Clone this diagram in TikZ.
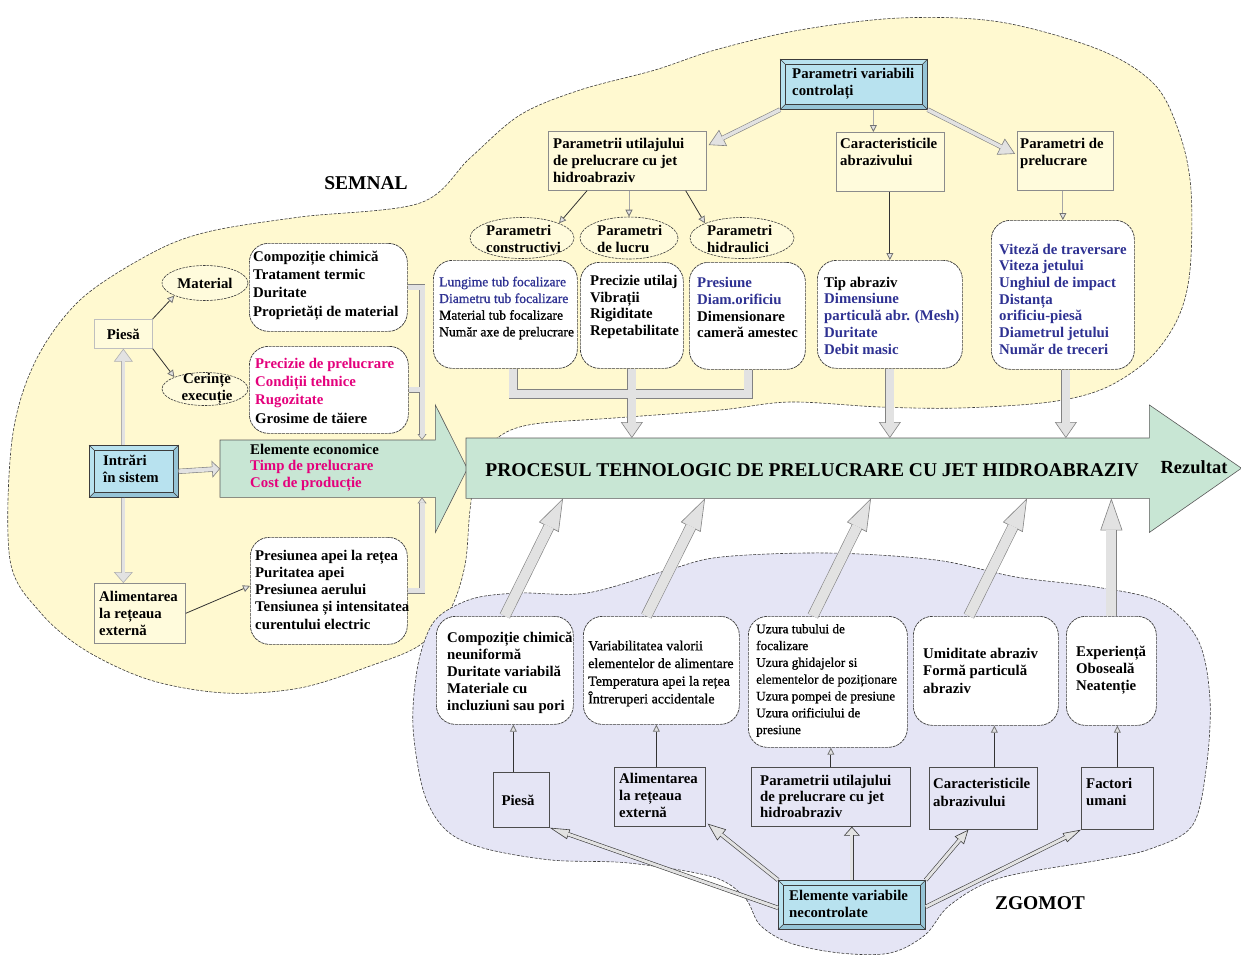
\documentclass[tikz,border=0pt]{standalone}
\usepackage{fontspec}
\setmainfont{Liberation Serif}
\newfontfamily\medserif{Liberation Serif}[FakeBold=0.9]
\usetikzlibrary{arrows.meta,calc,shapes.geometric}

\definecolor{semnalbg}{RGB}{255,249,208}
\definecolor{zgomotbg}{RGB}{229,229,245}
\definecolor{procgreen}{RGB}{200,230,212}
\definecolor{bevelblue}{RGB}{184,226,239}
\definecolor{bevelshade}{RGB}{150,196,214}
\definecolor{boxyellow}{RGB}{255,251,220}
\definecolor{navy}{RGB}{46,49,146}
\definecolor{pinktext}{RGB}{228,0,124}
\definecolor{arrowfill}{RGB}{226,226,226}
\definecolor{arrowline}{RGB}{130,130,130}
\definecolor{lightline}{RGB}{175,175,175}
\definecolor{outline}{RGB}{60,60,60}

\tikzset{
  txt/.style={inner sep=0pt, anchor=west, align=left, font=\fontsize{14.8}{17}\selectfont\bfseries},
  txtc/.style={txt, anchor=center, align=center},
  rbox/.style={draw=outline, line width=0.7pt, dash pattern=on 3pt off 0.8pt, fill=white, rounded corners=19pt, inner sep=0pt, anchor=north west},
  ybox/.style={draw=black!45, line width=0.7pt, fill=boxyellow, inner sep=0pt, anchor=north west},
  lbox/.style={draw=black!70, line width=0.7pt, fill=zgomotbg, inner sep=0pt, anchor=north west},
  bevel/.style={draw=outline, line width=0.7pt, fill=bevelblue, inner sep=0pt, anchor=north west},
  oval/.style={ellipse, draw=outline, line width=0.6pt, dash pattern=on 2.5pt off 1pt, fill=boxyellow, inner sep=0pt},
  blob/.style={draw=outline, line width=0.6pt, dash pattern=on 3pt off 1.5pt},
  thinarr/.style={draw=black!80, line width=0.8pt, -{Triangle[length=7pt,width=7pt,color=black!55,fill=arrowfill]}},
  lightarr/.style={thinarr, draw=black!35},
  shaftout/.style={draw=arrowline, line join=miter},
  shaftin/.style={draw=arrowfill, line join=miter},
  bigtxt/.style={inner sep=0pt, font=\fontsize{19.5}{20}\selectfont\bfseries},
}

% hollow arrow: [outline colour]{shaft width}{head length}{head width}{from}{to}
\newcommand\harrow[6][arrowline]{%
  \draw[draw=#1, line width=0.6pt, -{Triangle[length=#3pt,width=#4pt,fill=arrowfill]}] #5 -- #6;
  \draw[draw=#1, line width=#2pt+1.2pt, shorten >=#3pt-0.6pt] #5 -- #6;
  \draw[draw=arrowfill, line width=#2pt, shorten >=#3pt-0.9pt] #5 -- #6;}

% bevelled frame drawn over a node of style bevel
\newcommand\bevelize[1]{%
  \fill[bevelshade] (#1.south west) -- ($(#1.south west)+(5,-5)$) -- ($(#1.south east)+(-5,-5)$)
     -- ($(#1.north east)+(-5,5)$) -- (#1.north east) -- (#1.south east) -- cycle;
  \draw[outline, line width=0.5pt] ($(#1.north west)+(5,5)$) rectangle ($(#1.south east)+(-5,-5)$);
  \draw[outline, line width=0.5pt] (#1.north west) -- ++(5,5) (#1.north east) -- ++(-5,5)
     (#1.south west) -- ++(5,-5) (#1.south east) -- ++(-5,-5);
  \draw[outline, line width=0.7pt] (#1.north west) rectangle (#1.south east);}

\begin{document}
\begin{tikzpicture}[x=1pt,y=-1pt]
\useasboundingbox (0,0) rectangle (1241,959);
\fill[white] (0,0) rectangle (1241,959);

% ---------- signal and noise regions ----------
\draw[blob, fill=semnalbg] plot[smooth cycle, tension=0.55] coordinates {
 (10,560) (12,440) (35,362) (80,300) (150,254) (207,232) (300,217) (420,203) (470,158)
 (520,115) (580,90) (655,70) (715,50) (800,30) (900,18) (1000,22) (1100,50) (1155,85)
 (1180,135) (1191,190) (1190,270) (1178,318) (1150,358) (1105,388) (1050,402) (960,408)
 (880,407) (790,402) (720,410) (614,418) (534,424) (500,436) (478,462) (470,510) (465,565)
 (450,610) (420,645) (370,666) (300,688) (225,693) (150,680) (85,650) (40,612)};
\draw[blob, fill=zgomotbg] plot[smooth cycle, tension=0.55] coordinates {
 (443,613) (475,598) (520,593) (587,593) (668,570) (721,557) (828,553) (936,560) (1016,577)
 (1096,587) (1160,602) (1198,640) (1210,700) (1206,770) (1192,826) (1150,849) (1100,860)
 (1000,878) (950,905) (925,935) (890,953) (840,953) (790,943) (760,925) (745,898) (713,877)
 (629,863) (551,860) (483,848) (446,830) (424,793) (413,727) (417,670) (428,632)};

\node[bigtxt] (semnal) at (366,183) {SEMNAL};
\node[bigtxt] (zgomot) at (1040,903) {ZGOMOT};

% ---------- process arrows ----------
\node[inner sep=0pt, minimum width=215pt, minimum height=57pt, anchor=north west] (econ) at (220,440) {};
\draw[draw=black!65, line width=0.6pt, fill=procgreen] (econ.north west) -- (econ.north east)
  -- ($(econ.north east)+(0,-35)$) -- ($(econ.east)+(32,0)$) -- ($(econ.south east)+(0,35)$)
  -- (econ.south east) -- (econ.south west) -- cycle;
\node[inner sep=0pt, minimum width=683pt, minimum height=60pt, anchor=north west] (proc) at (466,438) {};
\draw[draw=black!65, line width=0.6pt, fill=procgreen] (proc.north west) -- (proc.north east)
  -- ($(proc.north east)+(0,-33)$) -- ($(proc.east)+(92,0)$) -- ($(proc.south east)+(0,34)$)
  -- (proc.south east) -- (proc.south west) -- cycle;
\node[bigtxt] (procT) at (812,470) {PROCESUL TEHNOLOGIC DE PRELUCRARE CU JET HIDROABRAZIV};
\node[bigtxt, font=\fontsize{18.5}{20}\selectfont\bfseries] (rezT) at (1194,467) {Rezultat};
\node[txt, font=\fontsize{14.8}{16.5}\selectfont\bfseries] (econT) at (250,467.5)
  {Elemente economice\\{\color{pinktext}Timp de prelucrare}\\{\color{pinktext}Cost de producție}};

% ---------- inputs (left) ----------
\node[ybox, draw=black!25, minimum width=58pt, minimum height=29pt] (piesa) at (94,319) {};
\node[txtc] (piesaT) at (piesa) {Piesă};
\node[oval, minimum width=86pt, minimum height=35pt] (material) at (205,283) {};
\node[txtc] (materialT) at (material) {Material};
\node[oval, minimum width=86pt, minimum height=33pt] (cerinte) at (205,389) {};
\node[txtc] (cerinteT) at ($(cerinte)+(2,0)$) {Cerințe\\execuție};
\node[rbox, minimum width=158pt, minimum height=88pt] (compozitie) at (249,243) {};
\node[txt, font=\fontsize{14.8}{18.3}\selectfont\bfseries] (compT) at (253,285.5)
  {Compoziție chimică\\Tratament termic\\Duritate\\Proprietăți de material};
\node[rbox, minimum width=159pt, minimum height=87pt] (precizie) at (249,346) {};
\node[txt, font=\fontsize{14.8}{18.3}\selectfont\bfseries] (precT) at (255,390.5)
  {{\color{pinktext}Precizie de prelucrare}\\{\color{pinktext}Condiții tehnice}\\{\color{pinktext}Rugozitate}\\Grosime de tăiere};
\node[bevel, minimum width=89pt, minimum height=52pt] (intrari) at (89,445) {};
\bevelize{intrari}
\node[txt] (intrT) at (103,468.5) {Intrări\\în sistem};
\node[ybox, minimum width=91pt, minimum height=60pt] (alim) at (94,583) {};
\node[txt] (alimT) at (99,613) {Alimentarea\\la rețeaua\\externă};
\node[rbox, minimum width=157pt, minimum height=107pt] (presiunea) at (250,537) {};
\node[txt, font=\fontsize{14.8}{17.25}\selectfont\bfseries] (presT) at (255,589.5)
  {Presiunea apei la rețea\\Puritatea apei\\Presiunea aerului\\Tensiunea și intensitatea\\curentului electric};

% ---------- controlled parameters (top) ----------
\node[bevel, minimum width=147pt, minimum height=50pt] (variabili) at (780,59) {};
\bevelize{variabili}
\node[txt] (varT) at (792,83.5) {Parametri variabili\\controlați};
\node[ybox, minimum width=158pt, minimum height=59pt] (utilajului) at (548,131) {};
\node[txt] (utilT) at (553,160) {Parametrii utilajului\\de prelucrare cu jet\\hidroabraziv};
\node[ybox, minimum width=108pt, minimum height=59pt] (caract) at (836,132) {};
\node[txt] (caractT) at (840,152) {Caracteristicile\\abrazivului};
\node[ybox, minimum width=96pt, minimum height=59pt] (prelucrare) at (1017,131) {};
\node[txt] (prelT) at (1020,153.5) {Parametri de\\prelucrare};
\node[oval, minimum width=104pt, minimum height=41pt] (constr) at (522,238) {};
\node[txt] (constrT) at (486,238.5) {Parametri\\constructivi};
\node[oval, minimum width=98pt, minimum height=42pt] (lucru) at (629,238) {};
\node[txt] (lucruT) at (597,238.5) {Parametri\\de lucru};
\node[oval, minimum width=104pt, minimum height=41pt] (hidr) at (742,238) {};
\node[txt] (hidrT) at (707,238.5) {Parametri\\hidraulici};
\node[rbox, minimum width=144pt, minimum height=108pt] (lungime) at (433,260) {};
\node[txt, font=\fontsize{13.6}{16.7}\medserif] (lungT) at (439,308)
  {{\color{navy}Lungime tub focalizare}\\{\color{navy}Diametru tub focalizare}\\Material tub focalizare\\Număr axe de prelucrare};
\node[rbox, minimum width=103pt, minimum height=106pt] (precutil) at (580,262) {};
\node[txt, font=\fontsize{14.8}{16.7}\selectfont\bfseries] (precuT) at (590,307)
  {Precizie utilaj\\Vibrații\\Rigiditate\\Repetabilitate};
\node[rbox, minimum width=116pt, minimum height=107pt] (presiune) at (689,262) {};
\node[txt, font=\fontsize{14.8}{16.9}\selectfont\bfseries] (presiuneT) at (697,307.5)
  {{\color{navy}Presiune}\\{\color{navy}Diam.orificiu}\\Dimensionare\\cameră amestec};
\node[rbox, minimum width=145pt, minimum height=108pt] (tip) at (817,260) {};
\node[txt, font=\fontsize{14.8}{16.75}\selectfont\bfseries] (tipT) at (824,315.5)
  {Tip abraziv\\{\color{navy}Dimensiune}\\{\color{navy}particulă abr. (Mesh)}\\{\color{navy}Duritate}\\{\color{navy}Debit masic}};
\node[rbox, minimum width=143pt, minimum height=149pt] (viteza) at (991,220) {};
\node[txt, font=\fontsize{14.8}{16.7}\selectfont\bfseries, text=navy] (vitT) at (999,299)
  {Viteză de traversare\\Viteza jetului\\Unghiul de impact\\Distanța\\orificiu-piesă\\Diametrul jetului\\Număr de treceri};

% ---------- uncontrolled elements (bottom) ----------
\node[rbox, minimum width=137pt, minimum height=108pt] (box1) at (436,616) {};
\node[txt] (box1T) at (447,673)
  {Compoziție chimică\\neuniformă\\Duritate variabilă\\Materiale cu\\incluziuni sau pori};
\node[rbox, minimum width=156pt, minimum height=108pt] (box2) at (583,616) {};
\node[txt, font=\fontsize{14}{17.7}\medserif] (box2T) at (588,673.5)
  {Variabilitatea valorii\\elementelor de alimentare\\Temperatura apei la rețea\\Întreruperi accidentale};
\node[rbox, minimum width=159pt, minimum height=131pt] (box3) at (748,616) {};
\node[txt, font=\fontsize{13.2}{16.8}\medserif] (box3T) at (756,680.5)
  {Uzura tubului de\\focalizare\\Uzura ghidajelor si\\elementelor de poziționare\\Uzura pompei de presiune\\Uzura orificiului de\\presiune};
\node[rbox, minimum width=145pt, minimum height=109pt] (box4) at (913,616) {};
\node[txt, font=\fontsize{14.8}{17.5}\selectfont\bfseries] (box4T) at (923,670.5)
  {Umiditate abraziv\\Formă particulă\\abraziv};
\node[rbox, minimum width=90pt, minimum height=109pt] (box5) at (1066,616) {};
\node[txt] (box5T) at (1076,670) {Experiență\\Oboseală\\Neatenție};

\node[lbox, minimum width=56pt, minimum height=55pt] (piesaB) at (493,772) {};
\node[txtc] (piesaBT) at (518,800) {Piesă};
\node[lbox, minimum width=91pt, minimum height=59pt] (alimB) at (614,767) {};
\node[txt] (alimBT) at (619,795) {Alimentarea\\la rețeaua\\externă};
\node[lbox, minimum width=159pt, minimum height=59pt] (paramB) at (751,767) {};
\node[txt, font=\fontsize{14.8}{16}\selectfont\bfseries] (paramBT) at (760,796)
  {Parametrii utilajului\\de prelucrare cu jet\\hidroabraziv};
\node[lbox, minimum width=108pt, minimum height=62pt] (caractB) at (929,767) {};
\node[txt, font=\fontsize{14.8}{18}\selectfont\bfseries] (caractBT) at (933,792) {Caracteristicile\\abrazivului};
\node[lbox, minimum width=72pt, minimum height=62pt] (factoriB) at (1081,767) {};
\node[txt] (factoriBT) at (1086,791.5) {Factori\\umani};
\node[bevel, minimum width=147pt, minimum height=49pt] (elemente) at (778,880) {};
\bevelize{elemente}
\node[txt] (elemT) at (789,903.5) {Elemente variabile\\necontrolate};

% ---------- connectors: inputs ----------
\draw[thinarr] (piesa.north east) -- (material.south west);
\draw[thinarr] (piesa.south east) -- (cerinte.north west);
\draw[thinarr] (alim.east) -- ($(presiunea.west)+(0,-5)$);
\harrow[lightline]{3}{13}{19}{(piesa.south |- intrari.north)}{(piesa.south)}
\harrow[lightline]{3}{11}{19}{(piesa.south |- intrari.south)}{(piesa.south |- alim.north)}
\harrow{4}{8}{17}{(intrari.east)}{(econ.west)}

\coordinate (brkA) at (422,0);
\draw[draw=arrowline, line width=0.6pt, -{Triangle[length=6pt,width=9pt,fill=arrowfill]}]
  (brkA |- compozitie.east) -- (brkA |- econ.north);
\draw[draw=arrowline, line width=0.6pt, -{Triangle[length=6pt,width=9pt,fill=arrowfill]}]
  (brkA |- presiunea.east) -- (brkA |- econ.south);
\foreach \w/\s in {6.2/shaftout, 5/shaftin} {
  \draw[\s, line width=\w pt] (compozitie.east) -- (brkA |- compozitie.east) -- ($(brkA |- econ.north)+(0,-5.5)$);
  \draw[\s, line width=\w pt] (precizie.east) -- (brkA |- precizie.east);
  \draw[\s, line width=\w pt] (presiunea.east) -- (brkA |- presiunea.east) -- ($(brkA |- econ.south)+(0,5.5)$);
}

% ---------- connectors: controlled parameters ----------
\harrow{3.5}{16}{18}{(variabili.south west)}{($(utilajului.north east)+(2,14)$)}
\harrow{3.5}{16}{18}{(variabili.south east)}{($(prelucrare.west)+(-2,-7)$)}
\draw[lightarr] ($(variabili.south)+(19.5,0)$) -- ($(caract.north)+(-17,0)$);
\draw[thinarr] ($(utilajului.south west)+(39,0)$) -- (constr.north east);
\draw[lightarr] (lucru.north |- utilajului.south) -- (lucru.north);
\draw[thinarr] ($(utilajului.south east)+(-21,0)$) -- (hidr.north west);
\draw[thinarr] (tip.north |- caract.south) -- (tip.north);
\draw[lightarr] (viteza.north |- prelucrare.south) -- (viteza.north);

\coordinate (mbar) at (0,394);
\draw[draw=arrowline, line width=0.6pt, -{Triangle[length=16pt,width=22pt,fill=arrowfill]}]
  (precutil.south) -- (precutil.south |- proc.north);
\foreach \w/\s in {9.2/shaftout, 8/shaftin} {
  \draw[\s, line width=\w pt] ($(lungime.south)+(8,0)$) -- ($(lungime.south |- mbar)+(8,0)$)
    -- ($(presiune.south |- mbar)+(1,0)$) -- ($(presiune.south)+(1,0)$);
  \draw[\s, line width=\w pt] (precutil.south) -- ($(precutil.south |- proc.north)+(0,-15.4)$);
}
\harrow{8}{16}{22}{(tip.south)}{(tip.south |- proc.north)}
\harrow{8}{16}{22}{($(viteza.south)+(3,0)$)}{($(viteza.south |- proc.north)+(3,0)$)}

% ---------- connectors: uncontrolled elements ----------
\harrow{10}{32}{22}{(box1.north)}{($(proc.south west)+(97,0)$)}
\harrow{10}{32}{22}{($(box2.north)+(-15,0)$)}{($(proc.south west)+(239,0)$)}
\harrow{10}{32}{22}{($(box3.north)+(-15,0)$)}{($(proc.south west)+(405,0)$)}
\harrow{10}{32}{22}{($(box4.north)+(-17,0)$)}{($(proc.south west)+(561,0)$)}
\harrow{10}{32}{22}{(box5.north)}{(box5.north |- proc.south)}

\draw[thinarr] ($(piesaB.north)+(-8,0)$) -- ($(box1.south)+(8.5,0)$);
\draw[thinarr] ($(alimB.north)+(-3.5,0)$) -- ($(box2.south)+(-5,0)$);
\draw[thinarr] (paramB.north) -- (paramB.north |- box3.south);
\draw[thinarr] ($(caractB.north)+(11,0)$) -- ($(box4.south)+(8.5,0)$);
\draw[thinarr] (factoriB.north) -- (factoriB.north |- box5.south);

\harrow[outline]{3}{20}{10}{($(elemente.west)+(0,3)$)}{(piesaB.south east)}
\harrow[outline]{3}{18}{14}{(elemente.north west)}{($(alimB.south east)+(2,-3)$)}
\harrow[outline]{3}{9}{16}{(elemente.north)}{(elemente.north |- paramB.south)}
\harrow[outline]{3}{14}{12}{(elemente.north east)}{($(caractB.south)+(-15,0)$)}
\harrow[outline]{3}{18}{10}{($(elemente.east)+(0,2)$)}{(factoriB.south west)}

\end{tikzpicture}
\end{document}
